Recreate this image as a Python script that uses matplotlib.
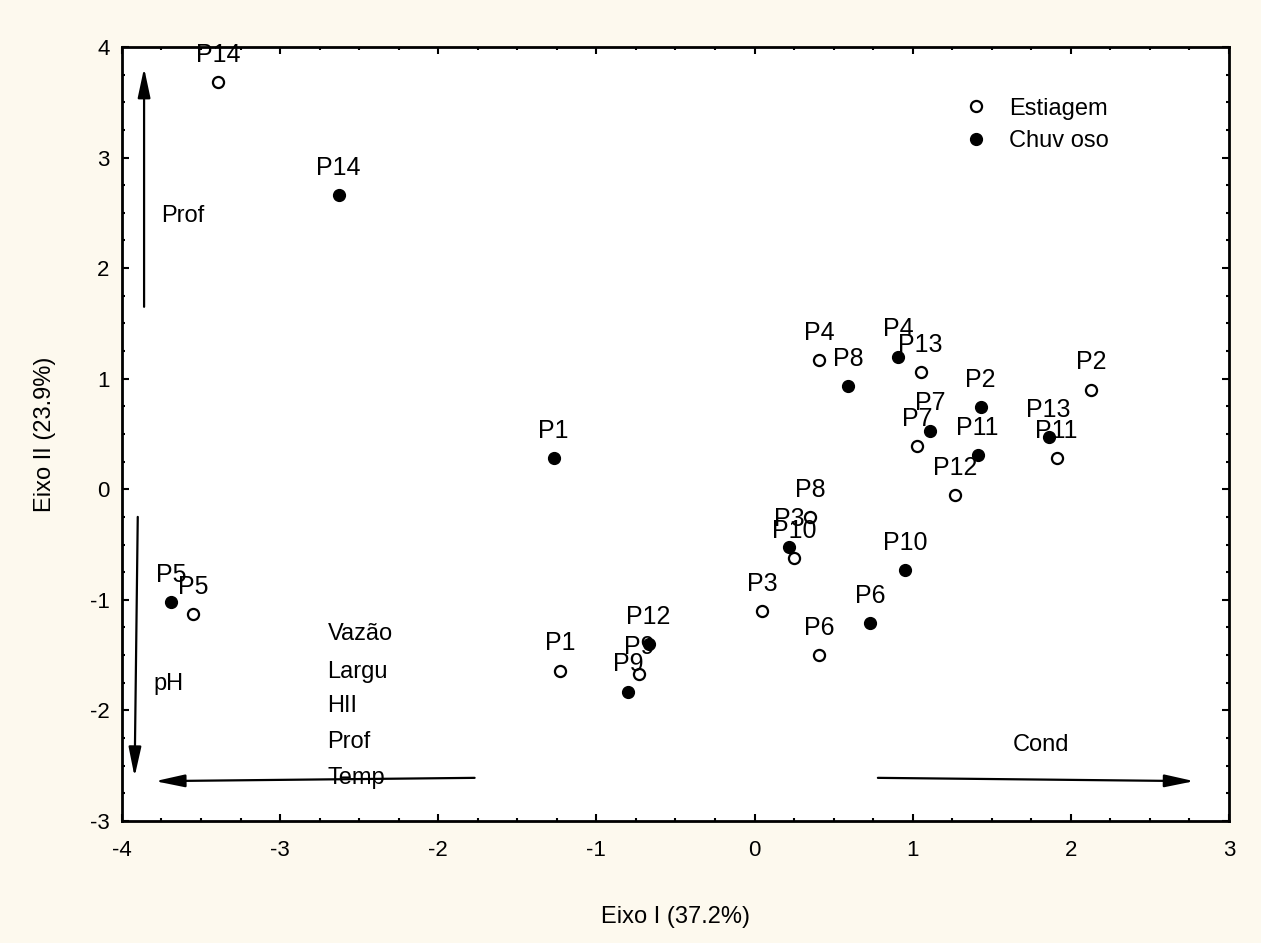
import matplotlib
matplotlib.use("Agg")
import matplotlib.pyplot as plt
from matplotlib.ticker import MultipleLocator

# PCA scores, Estiagem (open) and Chuvoso (filled)
est_labels = ["P1", "P2", "P3", "P4", "P5", "P6", "P7", "P8", "P9", "P10", "P11", "P12", "P13", "P14"]
est_x = [-1.23, 2.13, 0.05, 0.41, -3.55, 0.41, 1.03, 0.35, -0.73, 0.25, 1.91, 1.27, 1.05, -3.39]
est_y = [-1.64, 0.90, -1.10, 1.17, -1.13, -1.50, 0.39, -0.25, -1.67, -0.62, 0.28, -0.05, 1.06, 3.68]

chu_labels = ["P1", "P2", "P3", "P4", "P5", "P6", "P7", "P8", "P9", "P10", "P11", "P12", "P13", "P14"]
chu_x = [-1.27, 1.43, 0.22, 0.91, -3.69, 0.73, 1.11, 0.59, -0.80, 0.95, 1.41, -0.67, 1.86, -2.63]
chu_y = [0.28, 0.74, -0.52, 1.20, -1.02, -1.21, 0.53, 0.93, -1.83, -0.73, 0.31, -1.40, 0.47, 2.66]

# variable vectors (start -> end)
vec_start = [(-3.86, 1.65), (-3.90, -0.25), (-1.77, -2.61), (0.78, -2.61)]
vec_end = [(-3.86, 3.81), (-3.92, -2.60), (-3.79, -2.64), (2.78, -2.64)]

# variable names and where they sit
var_names = ["Prof", "pH", "Vazão", "Largu", "HII", "Prof", "Temp"]
var_x = [-3.75, -3.80, -2.70, -2.70, -2.70, -2.70, -2.70]
var_y = [2.47, -1.76, -1.31, -1.65, -1.96, -2.29, -2.61]
cond_name, cond_x, cond_y = "Cond", 1.81, -2.31

plt.rcParams["font.family"] = ["Liberation Sans", "DejaVu Sans"]
plt.rcParams["axes.unicode_minus"] = False

fig = plt.figure(figsize=(12.61, 9.43), dpi=100, facecolor="#fdf9ee")
ax = fig.add_axes([0.0967, 0.1294, 0.8779, 0.8208])
ax.set_facecolor("white")

ax.plot(est_x, est_y, "o", ms=8, mfc="white", mec="black", mew=1.6, ls="none", label="Estiagem")
ax.plot(chu_x, chu_y, "o", ms=8.5, mfc="black", mec="black", ls="none", label="Chuv oso")

for lab, x, y in zip(est_labels, est_x, est_y):
    ax.annotate(lab, (x, y), xytext=(0, 11), textcoords="offset points",
                ha="center", va="bottom", fontsize=18)
for lab, x, y in zip(chu_labels, chu_x, chu_y):
    ax.annotate(lab, (x, y), xytext=(0, 11), textcoords="offset points",
                ha="center", va="bottom", fontsize=18)

for s, e in zip(vec_start, vec_end):
    ax.annotate("", xy=e, xytext=s,
                arrowprops=dict(arrowstyle="-|>,head_length=0.75,head_width=0.16",
                                mutation_scale=24, lw=1.6, color="black",
                                shrinkA=0, shrinkB=0))

for name, x, y in zip(var_names, var_x, var_y):
    ax.text(x, y, name, ha="left", va="center", fontsize=17)
ax.text(cond_x, cond_y, cond_name, ha="center", va="center", fontsize=17)

ax.set_xlim(-4, 3)
ax.set_ylim(-3, 4)
ax.xaxis.set_major_locator(MultipleLocator(1))
ax.yaxis.set_major_locator(MultipleLocator(1))
ax.xaxis.set_minor_locator(MultipleLocator(0.25))
ax.yaxis.set_minor_locator(MultipleLocator(0.25))
ax.tick_params(which="both", direction="in", top=True, right=True, width=1.5)
ax.tick_params(which="major", length=5, labelsize=16)
ax.tick_params(axis="x", which="major", pad=14)
ax.tick_params(axis="y", which="major", pad=9)
ax.tick_params(which="minor", length=2.5)
for sp in ax.spines.values():
    sp.set_linewidth(2)

ax.set_xlabel("Eixo I (37.2%)", fontsize=17, labelpad=32)
ax.set_ylabel("Eixo II (23.9%)", fontsize=17, labelpad=24)

ax.legend(loc="upper left", bbox_to_anchor=(0.742, 0.962), frameon=False,
          fontsize=17, handlelength=1.0, handletextpad=0.9, labelspacing=0.45)

fig.savefig("out.png", dpi=100, facecolor=fig.get_facecolor())
